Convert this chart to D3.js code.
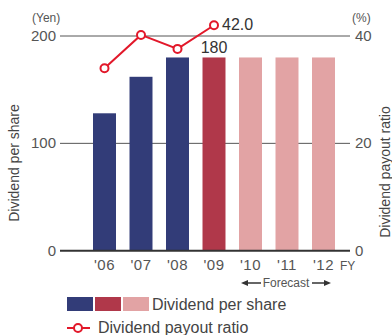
<!DOCTYPE html>
<html>
<head>
<meta charset="utf-8">
<script src="https://cdn.jsdelivr.net/npm/d3@7"></script>
<style>
  body { margin: 0; background: #fff; }
  text { font-family: "Liberation Sans", Arial, sans-serif; fill: #555; }
</style>
</head>
<body>
<div id="chart"></div>
<script>
// fiscal years, '10-'12 are forecast
const years = ["'06", "'07", "'08", "'09", "'10", "'11", "'12"];
const dividend = [128, 162, 180, 180, 180, 180, 180];
const payoutYears = ["'06", "'07", "'08", "'09"];
const payoutRatio = [34, 40.2, 37.6, 42.0];
const barKind = ["past", "past", "past", "current", "forecast", "forecast", "forecast"];
const yenTicks = [0, 100, 200];
const pctTicks = [0, 20, 40];

const colors = { past: "#323c78", current: "#b0384a", forecast: "#e2a3a4" };
const lineColor = "#e2182a";

const width = 392, height = 335;
const svg = d3.select("#chart").append("svg")
    .attr("width", width)
    .attr("height", height);

const x = d3.scaleBand()
    .domain(years)
    .range([86.25, 341.75])
    .paddingInner(0.37)
    .paddingOuter(0.185);

const yYen = d3.scaleLinear().domain([0, 200]).range([250.7, 36]);
const yPct = d3.scaleLinear().domain([0, 40]).range([250.7, 36]);

// gridlines
svg.selectAll("line.grid")
    .data(yenTicks.filter(d => d > 0))
    .enter().append("line")
    .attr("x1", 60).attr("x2", 350)
    .attr("y1", d => yYen(d)).attr("y2", d => yYen(d))
    .attr("stroke", "#555").attr("stroke-width", 1);

// left tick labels
svg.selectAll("text.ly")
    .data(yenTicks)
    .enter().append("text")
    .attr("x", 56).attr("y", d => yYen(d) + 5)
    .attr("text-anchor", "end")
    .style("font-size", "15px")
    .text(d => d);

// right tick labels
svg.selectAll("text.ry")
    .data(pctTicks)
    .enter().append("text")
    .attr("x", 355).attr("y", d => yPct(d) + 5)
    .style("font-size", "15px")
    .text(d => d);

// bars
svg.selectAll("rect.bar")
    .data(dividend)
    .enter().append("rect")
    .attr("x", (d, i) => x(years[i]))
    .attr("width", x.bandwidth())
    .attr("y", d => yYen(d))
    .attr("height", d => yYen(0) - yYen(d))
    .attr("fill", (d, i) => colors[barKind[i]]);

// baseline
svg.append("line")
    .attr("x1", 60).attr("x2", 350)
    .attr("y1", yYen(0)).attr("y2", yYen(0))
    .attr("stroke", "#333").attr("stroke-width", 2);

// x labels
svg.selectAll("text.xl")
    .data(years)
    .enter().append("text")
    .attr("x", d => x(d) + x.bandwidth() / 2)
    .attr("y", 270)
    .attr("text-anchor", "middle")
    .style("font-size", "15px")
    .style("letter-spacing", "0.5px")
    .text(d => d);

svg.append("text").attr("x", 340).attr("y", 270)
    .style("font-size", "12px").text("FY");

// payout ratio line
const line = d3.line()
    .x((d, i) => x(payoutYears[i]) + x.bandwidth() / 2)
    .y(d => yPct(d));

svg.append("path")
    .datum(payoutRatio)
    .attr("d", line)
    .attr("fill", "none")
    .attr("stroke", lineColor)
    .attr("stroke-width", 2);

svg.selectAll("circle.pt")
    .data(payoutRatio)
    .enter().append("circle")
    .attr("cx", (d, i) => x(payoutYears[i]) + x.bandwidth() / 2)
    .attr("cy", d => yPct(d))
    .attr("r", 4)
    .attr("fill", "#fff")
    .attr("stroke", lineColor)
    .attr("stroke-width", 2);

// value labels
svg.append("text")
    .attr("x", x("'09") + x.bandwidth() / 2 + 8)
    .attr("y", yPct(payoutRatio[3]) + 5)
    .style("font-size", "16px").style("fill", "#333")
    .text(payoutRatio[3].toFixed(1));

svg.append("text")
    .attr("x", x("'09") + x.bandwidth() / 2)
    .attr("y", yYen(dividend[3]) - 4)
    .attr("text-anchor", "middle")
    .style("font-size", "16px").style("fill", "#333")
    .text(dividend[3]);

// units
svg.append("text").attr("x", 32).attr("y", 22)
    .style("font-size", "12px").text("(Yen)");
svg.append("text").attr("x", 352).attr("y", 22)
    .style("font-size", "12px").text("(%)");

// axis titles
svg.append("text")
    .attr("transform", "translate(19,163) rotate(-90)")
    .attr("text-anchor", "middle")
    .style("font-size", "14px").style("fill", "#444")
    .text("Dividend per share");
svg.append("text")
    .attr("transform", "translate(390,172) rotate(-90)")
    .attr("text-anchor", "middle")
    .style("font-size", "14px").style("fill", "#444")
    .text("Dividend payout ratio");

// forecast arrow
const fy = 283;
const fx0 = 241, fx1 = 331;
svg.append("text").attr("x", (fx0 + fx1) / 2).attr("y", fy + 4)
    .attr("text-anchor", "middle")
    .style("font-size", "12px").text("Forecast");
svg.append("line").attr("x1", fx0 + 5).attr("x2", 261).attr("y1", fy).attr("y2", fy)
    .attr("stroke", "#333").attr("stroke-width", 1.5);
svg.append("line").attr("x1", 312).attr("x2", fx1 - 5).attr("y1", fy).attr("y2", fy)
    .attr("stroke", "#333").attr("stroke-width", 1.5);
svg.append("path").attr("d", `M${fx0},${fy}L${fx0 + 7},${fy - 3}L${fx0 + 7},${fy + 3}Z`).attr("fill", "#333");
svg.append("path").attr("d", `M${fx1},${fy}L${fx1 - 7},${fy - 3}L${fx1 - 7},${fy + 3}Z`).attr("fill", "#333");

// legend
const legendKinds = ["past", "current", "forecast"];
svg.selectAll("rect.leg")
    .data(legendKinds)
    .enter().append("rect")
    .attr("x", (d, i) => 67 + i * 28)
    .attr("y", 297)
    .attr("width", 26).attr("height", 14)
    .attr("fill", d => colors[d]);
svg.append("text").attr("x", 152).attr("y", 310)
    .style("font-size", "16px").style("fill", "#444").text("Dividend per share");

svg.append("line").attr("x1", 67).attr("x2", 90).attr("y1", 328).attr("y2", 328)
    .attr("stroke", lineColor).attr("stroke-width", 2);
svg.append("circle").attr("cx", 78).attr("cy", 328).attr("r", 4)
    .attr("fill", "#fff").attr("stroke", lineColor).attr("stroke-width", 2);
svg.append("text").attr("x", 98).attr("y", 333)
    .style("font-size", "16px").style("fill", "#444").text("Dividend payout ratio");
</script>
</body>
</html>
